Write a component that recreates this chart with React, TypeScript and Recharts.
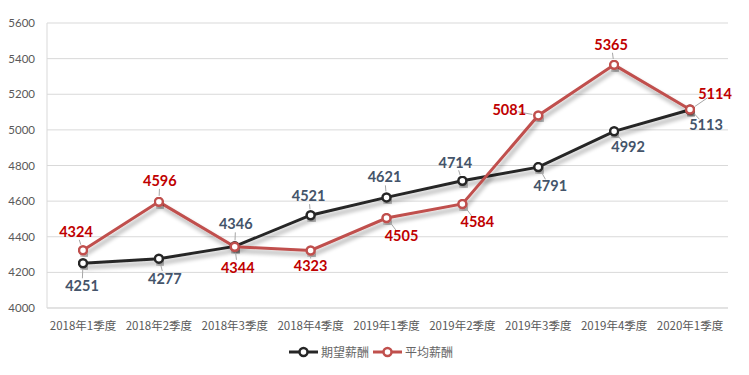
import React from 'react';
import { LineChart, Line, XAxis, YAxis, CartesianGrid, Legend, LabelList } from 'recharts';

document.body.style.margin = '0';

const quarters = [
  '2018年1季度', '2018年2季度', '2018年3季度', '2018年4季度', '2019年1季度',
  '2019年2季度', '2019年3季度', '2019年4季度', '2020年1季度',
];
const expectedPay = [4251, 4277, 4346, 4521, 4621, 4714, 4791, 4992, 5113];
const averagePay = [4324, 4596, 4344, 4323, 4505, 4584, 5081, 5365, 5114];
const yTicks = [4000, 4200, 4400, 4600, 4800, 5000, 5200, 5400, 5600];

// label offsets relative to each point (layout only)
const expectedOffsets = [[-1, 23], [6, 20], [1, -22], [-2, -19], [-2, -20], [-7, -18], [12, 19], [14, 16], [16, 15]];
const averageOffsets = [[-7, -18], [1, -21], [3, 21], [0, 16], [15, 18], [15, 18], [-29, -5], [-3, -20], [25, -16]];

const data = quarters.map((q, i) => ({ name: q, expected: expectedPay[i], average: averagePay[i] }));

const makeLabel = (offsets: number[][], color: string) => (props: any) => {
  const { x, y, value, index } = props;
  const [dx, dy] = offsets[index];
  const lx = x + dx;
  const ly = y + dy;
  const len = Math.hypot(dx, dy);
  const ux = dx / len;
  const uy = dy / len;
  return (
    <g>
      <line x1={x + ux * 6} y1={y + uy * 6} x2={lx - ux * 9} y2={ly - uy * 8} stroke="#a6a6a6" strokeWidth={1} />
      <text x={lx} y={ly} dy={5} textAnchor="middle" fill={color} fontSize={14.5} fontWeight="bold" fontFamily="Lato, sans-serif">
        {value}
      </text>
    </g>
  );
};

const renderLegend = () => (
  <div style={{ display: 'flex', justifyContent: 'center', alignItems: 'center', paddingLeft: 18, fontFamily: '"Noto Sans CJK SC", sans-serif', fontSize: 12, color: '#666' }}>
    {[{ c: '#262626', t: '期望薪酬' }, { c: '#c0504d', t: '平均薪酬' }].map((it) => (
      <span key={it.t} style={{ display: 'flex', alignItems: 'center', marginRight: 4 }}>
        <svg width={29} height={12}>
          <line x1={0} y1={6} x2={29} y2={6} stroke={it.c} strokeWidth={3} />
          <circle cx={14.5} cy={6} r={4} fill="#fff" stroke={it.c} strokeWidth={2.5} />
        </svg>
        <span style={{ marginLeft: 3 }}>{it.t}</span>
      </span>
    ))}
  </div>
);

export default function App() {
  return (
    <div style={{ width: 749, height: 375, background: '#fff' }}>
      <LineChart width={749} height={375} data={data} margin={{ top: 23, right: 21, left: 0, bottom: 6 }}>
        <defs>
          <filter id="shadow" x="-10%" y="-10%" width="120%" height="140%">
            <feGaussianBlur in="SourceAlpha" stdDeviation="2" />
            <feOffset dx="2" dy="4" result="off" />
            <feComponentTransfer>
              <feFuncA type="linear" slope="0.35" />
            </feComponentTransfer>
            <feMerge>
              <feMergeNode />
              <feMergeNode in="SourceGraphic" />
            </feMerge>
          </filter>
        </defs>
        <CartesianGrid stroke="#d9d9d9" vertical={false} />
        <XAxis
          dataKey="name"
          height={35}
          padding={{ left: 36, right: 38 }}
          axisLine={{ stroke: '#d9d9d9' }}
          tickLine={false}
          tick={{ fill: '#595959', fontSize: 11.5, fontFamily: '"Noto Sans CJK SC", sans-serif' }}
          tickMargin={8}
          interval={0}
        />
        <YAxis
          width={47}
          domain={[4000, 5600]}
          ticks={yTicks}
          axisLine={{ stroke: '#d9d9d9' }}
          tickLine={false}
          tickMargin={6}
          tick={{ fill: '#595959', fontSize: 11.5, fontFamily: 'Lato, sans-serif' }}
        />
        <Legend verticalAlign="bottom" height={26} content={renderLegend} />
        <Line
          dataKey="expected"
          name="期望薪酬"
          stroke="#262626"
          strokeWidth={3}
          filter="url(#shadow)"
          dot={{ r: 4, fill: '#fff', stroke: '#262626', strokeWidth: 2.5 }}
          isAnimationActive={false}
        >
          <LabelList dataKey="expected" content={makeLabel(expectedOffsets, '#44546a')} />
        </Line>
        <Line
          dataKey="average"
          name="平均薪酬"
          stroke="#c0504d"
          strokeWidth={3}
          filter="url(#shadow)"
          dot={{ r: 4, fill: '#fff', stroke: '#c0504d', strokeWidth: 2.5 }}
          isAnimationActive={false}
        >
          <LabelList dataKey="average" content={makeLabel(averageOffsets, '#c00000')} />
        </Line>
      </LineChart>
    </div>
  );
}
